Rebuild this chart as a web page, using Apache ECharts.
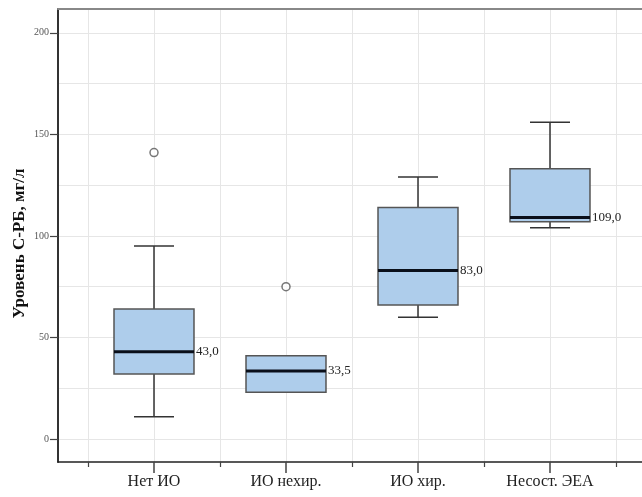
<!DOCTYPE html>
<html><head><meta charset="utf-8">
<script src="https://cdn.jsdelivr.net/npm/echarts@6/dist/echarts.min.js"></script>
<style>html,body{margin:0;padding:0;background:#fff}#c{width:642px;height:497px}</style>
</head><body><div id="c"></div>
<script>
const categories = ['Нет ИО', 'ИО нехир.', 'ИО хир.', 'Несост. ЭЕА'];
const whiskerLow = [11, 23, 60, 104];
const quartile1 = [32, 23, 66, 107];
const medians = [43, 33.5, 83, 109];
const quartile3 = [64, 41, 114, 133];
const whiskerHigh = [95, 41, 129, 156];
const outliers = [[1, 141], [2, 75]];
const yTickValues = [0, 50, 100, 150, 200];
const yMinorGrid = [25, 75, 125, 175];
const xBoundaries = [0.5, 1.5, 2.5, 3.5, 4.5];
const xCenters = [1, 2, 3, 4];

const X_MIN = 0.2727, X_MAX = 4.697;
const Y_MIN = -11.3, Y_MAX = 211.7;
const SERIF = '"Liberation Serif", "DejaVu Serif", serif';
const GRID_COLOR = '#e6e6e6';

const chart = echarts.init(document.getElementById('c'), null, {renderer: 'canvas'});

const boxData = categories.map((c, i) => [i + 1, whiskerLow[i], quartile1[i], medians[i], quartile3[i], whiskerHigh[i]]);

chart.setOption({
  animation: false,
  backgroundColor: '#fff',
  grid: {left: 58, right: 0, top: 9, bottom: 35, containLabel: false, outerBoundsMode: 'none'},
  xAxis: [
    {
      type: 'value', min: X_MIN, max: X_MAX, position: 'bottom',
      axisLine: {show: true, onZero: false, lineStyle: {color: '#222', width: 1.5}},
      axisTick: {show: true, customValues: xBoundaries, length: 5, lineStyle: {color: '#444', width: 1.2}},
      axisLabel: {show: false},
      splitLine: {show: true, lineStyle: {color: GRID_COLOR, width: 1}}
    },
    {
      type: 'value', min: X_MIN, max: X_MAX, position: 'bottom',
      axisLine: {show: false, onZero: false},
      axisTick: {show: true, customValues: xCenters, length: 11, lineStyle: {color: '#444', width: 1.5}},
      axisLabel: {show: true, customValues: xCenters, margin: 12,
        formatter: v => categories[Math.round(v) - 1] || '',
        fontFamily: SERIF, fontSize: 16, color: '#222'},
      splitLine: {show: true, lineStyle: {color: GRID_COLOR, width: 1}}
    },
    {
      type: 'value', min: X_MIN, max: X_MAX, position: 'top',
      axisLine: {show: true, onZero: false, lineStyle: {color: '#888', width: 2}},
      axisTick: {show: false}, axisLabel: {show: false}, splitLine: {show: false}
    }
  ],
  yAxis: [
    {
      type: 'value', min: Y_MIN, max: Y_MAX, position: 'left',
      name: 'Уровень С-РБ, мг/л', nameLocation: 'middle', nameGap: 30, nameMoveOverlap: false,
      nameTextStyle: {fontFamily: SERIF, fontSize: 17, fontWeight: 'bold', color: '#111', padding: [0, 16, 0, 0]},
      axisLine: {show: true, onZero: false, lineStyle: {color: '#333', width: 2}},
      axisTick: {show: true, customValues: yTickValues, length: 8, lineStyle: {color: '#444', width: 1.2}},
      axisLabel: {show: true, customValues: yTickValues, margin: 9, fontFamily: SERIF, fontSize: 10, color: '#555'},
      splitLine: {show: true, lineStyle: {color: GRID_COLOR, width: 1}}
    },
    {
      type: 'value', min: Y_MIN, max: Y_MAX, position: 'left',
      axisLine: {show: false, onZero: false},
      axisTick: {show: false, customValues: yMinorGrid},
      axisLabel: {show: false},
      splitLine: {show: true, lineStyle: {color: GRID_COLOR, width: 1}}
    }
  ],
  series: [
    {
      type: 'custom', xAxisIndex: 0, yAxisIndex: 0,
      data: boxData,
      encode: {x: 0, y: [1, 2, 3, 4, 5]},
      z: 5,
      renderItem: function (params, api) {
        const x = api.value(0);
        const pLow = api.coord([x, api.value(1)]);
        const pQ1 = api.coord([x, api.value(2)]);
        const pMed = api.coord([x, api.value(3)]);
        const pQ3 = api.coord([x, api.value(4)]);
        const pHigh = api.coord([x, api.value(5)]);
        const cx = Math.round(pMed[0]);
        const boxW = api.size([0.606, 0])[0];
        const capW = api.size([0.303, 0])[0];
        const lineStyle = {stroke: '#333', lineWidth: 1.5};
        const idx = params.dataIndex;
        const lbl = medians[idx].toFixed(1).replace('.', ',');
        return {
          type: 'group',
          children: [
            {type: 'line', shape: {x1: cx, y1: pHigh[1], x2: cx, y2: pQ3[1]}, style: lineStyle},
            {type: 'line', shape: {x1: cx, y1: pQ1[1], x2: cx, y2: pLow[1]}, style: lineStyle},
            {type: 'line', shape: {x1: cx - capW / 2, y1: pHigh[1], x2: cx + capW / 2, y2: pHigh[1]}, style: lineStyle},
            {type: 'line', shape: {x1: cx - capW / 2, y1: pLow[1], x2: cx + capW / 2, y2: pLow[1]}, style: lineStyle},
            {type: 'rect', shape: {x: cx - boxW / 2, y: pQ3[1], width: boxW, height: pQ1[1] - pQ3[1]},
              style: {fill: '#aecdeb', stroke: '#555', lineWidth: 1.5}},
            {type: 'line', shape: {x1: cx - boxW / 2, y1: pMed[1], x2: cx + boxW / 2, y2: pMed[1]},
              style: {stroke: '#0a0f1a', lineWidth: 3}},
            {type: 'text', x: cx + boxW / 2 + 2, y: pMed[1],
              style: {text: lbl, fill: '#222', font: '13px ' + SERIF, textAlign: 'left', textVerticalAlign: 'middle'}}
          ]
        };
      }
    },
    {
      type: 'scatter', xAxisIndex: 0, yAxisIndex: 0, z: 6,
      data: outliers,
      symbol: 'circle', symbolSize: 8,
      itemStyle: {color: '#fff', borderColor: '#555', borderWidth: 1.5}
    }
  ]
});
</script>
</body></html>
